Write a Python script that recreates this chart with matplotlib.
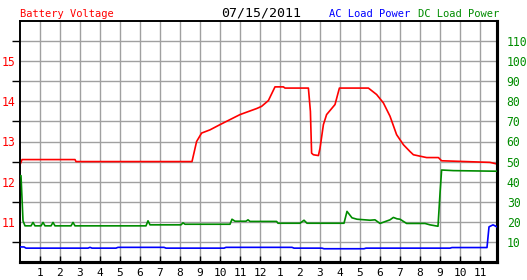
import matplotlib.pyplot as plt
import numpy as np

# hour of day (0 = midnight) and readings
volt_hours = [0.0, 0.1, 2.75, 2.8, 8.6, 8.83, 9.08, 9.5, 10.0, 11.0, 11.83, 12.08,
              12.42, 12.75, 13.17, 13.25, 14.42, 14.52, 14.58, 14.67, 14.92, 15.0,
              15.17, 15.33, 15.75, 15.97, 17.42, 17.83, 18.17, 18.5, 18.83, 19.17,
              19.5, 19.67, 20.33, 20.92, 21.08, 23.5, 23.85]
volt = [12.42, 12.55, 12.55, 12.5, 12.5, 13.0, 13.21, 13.29, 13.42, 13.67, 13.82, 13.875,
        14.02, 14.36, 14.36, 14.33, 14.33, 13.75, 12.71, 12.67, 12.65, 12.83,
        13.42, 13.67, 13.92, 14.33, 14.33, 14.17, 13.96, 13.63, 13.17, 12.92,
        12.75, 12.67, 12.6, 12.6, 12.52, 12.48, 12.44]

dc_hours = [0.0, 0.05, 0.15, 0.25, 0.55, 0.65, 0.75, 1.05, 1.15, 1.25, 1.55, 1.65, 1.75,
            2.55, 2.65, 2.75, 6.3, 6.4, 6.5, 8.05, 8.15, 8.25, 10.5, 10.6, 10.75,
            11.3, 11.4, 11.5, 12.83, 12.9, 14.0, 14.2, 14.35, 16.2, 16.35, 16.6,
            16.85, 17.5, 17.75, 18.0, 18.5, 18.67, 18.85, 19.0, 19.33, 20.25, 20.5,
            20.9, 21.0, 21.08, 21.67, 23.85]
dc_power = [43, 43, 20.5, 18, 18, 19.7, 18, 18, 19.7, 18, 18, 19.7, 18,
            18, 19.7, 18, 18, 20.5, 18.5, 18.5, 19.5, 18.8, 18.8, 21.3, 20.3,
            20.3, 21, 20.2, 20.2, 19.3, 19.3, 20.8, 19.3, 19.3, 25.2, 22,
            21.3, 20.8, 21, 19.2, 21, 22.2, 21.5, 21.3, 19.2, 19.2, 18.5,
            17.8, 34, 45.8, 45.5, 45.2]

ac_hours = [0.0, 0.2, 0.3, 3.4, 3.5, 3.6, 4.8, 4.9, 7.2, 7.3, 10.2, 10.3, 13.6, 13.7,
            15.1, 15.2, 17.2, 17.3, 21.5, 21.6, 23.35, 23.45, 23.65, 23.85]
ac_power = [7.5, 7.5, 6.9, 6.9, 7.3, 6.9, 6.9, 7.3, 7.3, 6.9, 6.9, 7.3, 7.3, 6.9,
            6.9, 6.6, 6.6, 6.9, 6.9, 7.2, 7.2, 17.5, 18.5, 17.5]

hour_labels = [str(h) for h in range(1, 13)] + [str(h) for h in range(1, 12)]
volt_labels = [11, 12, 13, 14, 15]
power_labels = list(range(10, 120, 10))

mono = 'DejaVu Sans Mono'
grid_c = '#a0a0a0'
green = '#008c00'

fig = plt.figure(figsize=(5.27, 2.8), dpi=100)
ax = fig.add_axes([20/527, 18/280, 477/527, 241/280])
ax2 = ax.twinx()

ax.plot(volt_hours, volt, color='red', lw=1.2, zorder=3)
ax2.plot(dc_hours, dc_power, color=green, lw=1.2, zorder=3)
ax2.plot(ac_hours, ac_power, color='blue', lw=1.2, zorder=3)

ax.set_xlim(0, 23.85)
ax.set_ylim(10, 16)
ax2.set_ylim(0, 120)

ax.set_xticks(range(1, 24))
ax.set_xticklabels(hour_labels, fontsize=8, family=mono)
ax.tick_params(axis='x', direction='in', length=4, width=1, pad=4)

# integer volts get labels, half volts get the black tick marks
ax.set_yticks(volt_labels)
ax.set_yticklabels([str(v) for v in volt_labels], fontsize=8.3, family=mono, color='red')
ax.set_yticks(np.arange(10.5, 16.0, 1.0), minor=True)
ax.tick_params(axis='y', which='major', length=0, pad=3)
ax.tick_params(axis='y', which='minor', direction='out', length=6, width=1)

ax2.set_yticks(power_labels)
ax2.set_yticklabels([str(v) for v in power_labels], fontsize=8.3,
                    family=mono, color=green)
ax2.tick_params(axis='y', length=0, pad=7)

ax.grid(True, which='both', color=grid_c, lw=1.0)
ax.set_axisbelow(True)

for a in (ax, ax2):
    a.spines['left'].set_linewidth(1.2)
    a.spines['top'].set_linewidth(1.2)
    a.spines['right'].set_linewidth(2.2)
    a.spines['bottom'].set_linewidth(2.2)

# header
fig.text(20/527, 1 - 17/280, 'Battery Voltage', color='red', fontsize=7.5, family=mono)
fig.text(261/527, 1 - 16/280, '07/15/2011', color='black', fontsize=9.5, family=mono,
         ha='center')
fig.text(329/527, 1 - 17/280, 'AC Load Power', color='blue', fontsize=7.5, family=mono)
fig.text(418/527, 1 - 17/280, 'DC Load Power', color=green, fontsize=7.5, family=mono)

fig.savefig('out.png', dpi=100)
